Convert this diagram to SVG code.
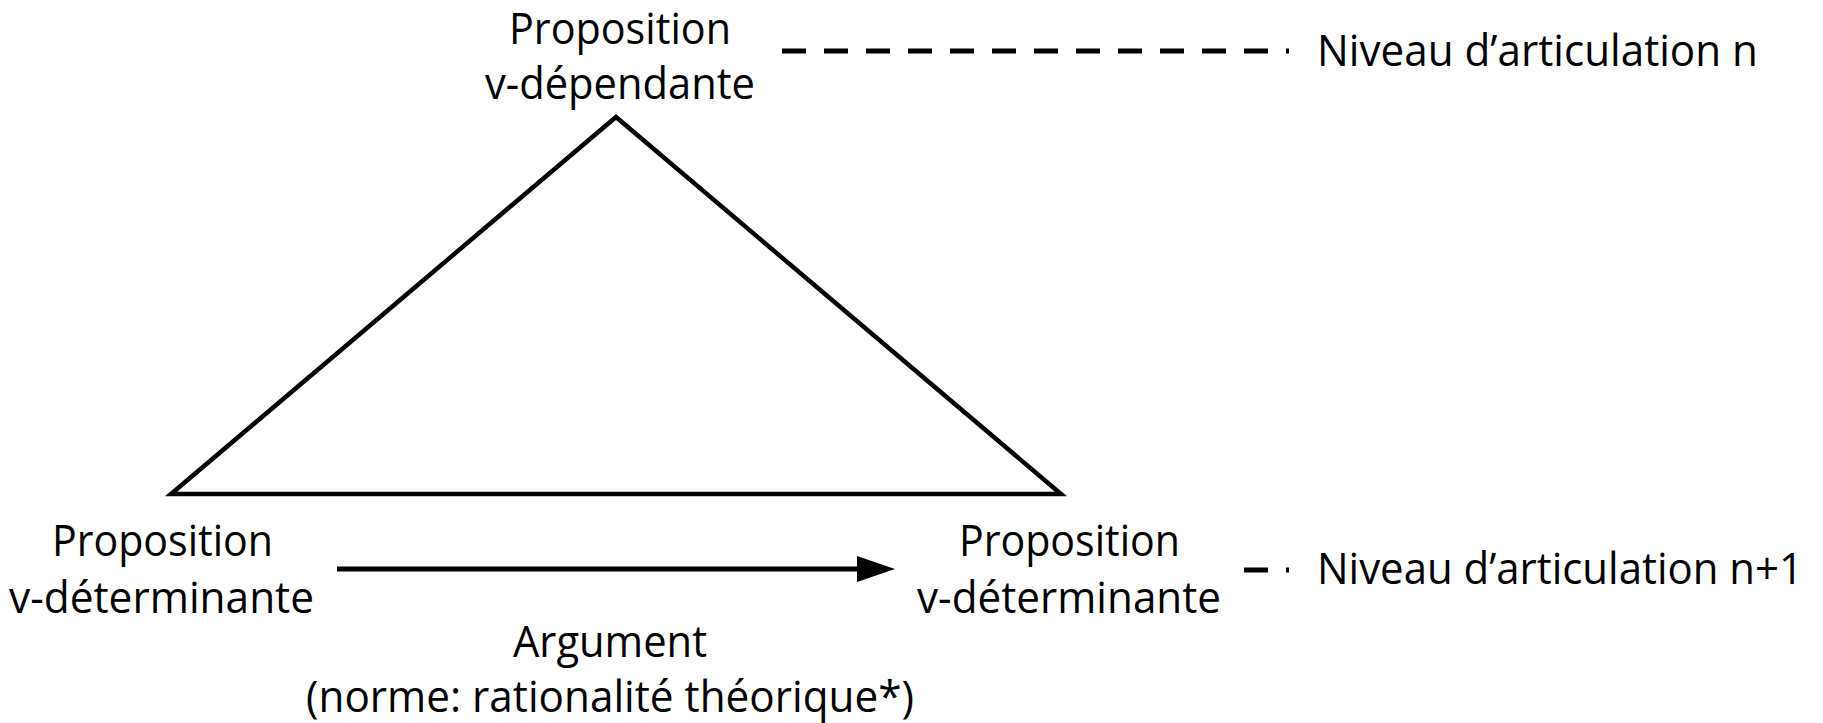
<svg xmlns="http://www.w3.org/2000/svg" width="1823" height="723" viewBox="0 0 1823 723">
<defs>
<style>
.t{font-family:"Open Sans","Noto Sans","Liberation Sans",sans-serif;font-size:43px;fill:#000}
.edge{fill:none;stroke:#000;stroke-width:4.5}
.dash{fill:none;stroke:#000;stroke-width:5;stroke-dasharray:24 18}
.arr{fill:none;stroke:#000;stroke-width:5}
</style>
</defs>
<rect width="1823" height="723" fill="#fff"/>
<g id="connectors">
<polygon class="edge" points="616,117 171,494 1061,494"/>
<line class="arr" x1="337" y1="569" x2="860" y2="569"/>
<path d="M857,556 L895,569 L857,582 Z" fill="#000"/>
<line class="dash" x1="782" y1="51" x2="1289" y2="51"/>
<line class="dash" x1="1244" y1="570" x2="1289" y2="570"/>
</g>
<g id="node-top">
<text class="t" x="509" y="44" textLength="222" lengthAdjust="spacingAndGlyphs">Proposition</text>
<text class="t" x="485" y="99" textLength="270" lengthAdjust="spacingAndGlyphs">v-dépendante</text>
</g>
<g id="node-left">
<text class="t" x="52" y="556" textLength="221" lengthAdjust="spacingAndGlyphs">Proposition</text>
<text class="t" x="9" y="613" textLength="305" lengthAdjust="spacingAndGlyphs">v-déterminante</text>
</g>
<g id="node-right">
<text class="t" x="959" y="556" textLength="221" lengthAdjust="spacingAndGlyphs">Proposition</text>
<text class="t" x="917" y="613" textLength="304" lengthAdjust="spacingAndGlyphs">v-déterminante</text>
</g>
<g id="label-argument">
<text class="t" x="513" y="657" textLength="194" lengthAdjust="spacingAndGlyphs">Argument</text>
<text class="t" x="306" y="712" textLength="608" lengthAdjust="spacingAndGlyphs">(norme: rationalité théorique*)</text>
</g>
<g id="level-n">
<text class="t" x="1317" y="66" textLength="441" lengthAdjust="spacingAndGlyphs">Niveau d’articulation n</text>
</g>
<g id="level-n1">
<text class="t" x="1317" y="584" textLength="486" lengthAdjust="spacingAndGlyphs">Niveau d’articulation n+1</text>
</g>
</svg>
